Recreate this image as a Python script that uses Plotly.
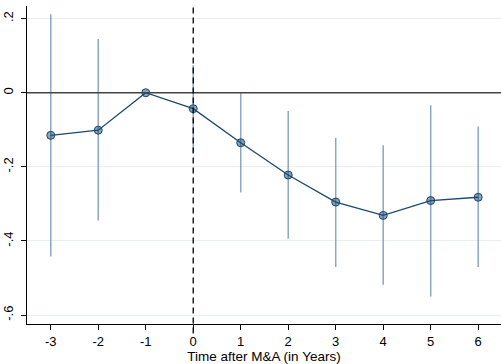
import plotly.graph_objects as go

years = [-3, -2, -1, 0, 1, 2, 3, 4, 5, 6]
coef = [-0.115, -0.101, 0.0, -0.043, -0.135, -0.222, -0.295, -0.331, -0.291, -0.282]
ci_hi = [0.212, 0.145, None, 0.074, 0.0, -0.049, -0.122, -0.142, -0.034, -0.091]
ci_lo = [-0.442, -0.345, None, -0.161, -0.269, -0.394, -0.470, -0.518, -0.550, -0.470]
ytick_vals = [0.2, 0.0, -0.2, -0.4, -0.6]
ytick_text = [".2", "0", "-.2", "-.4", "-.6"]
xtick_vals = [-3, -2, -1, 0, 1, 2, 3, 4, 5, 6]
xtick_text = ["-3", "-2", "-1", "0", "1", "2", "3", "4", "5", "6"]

fig = go.Figure()
# CI segments
seg_x, seg_y = [], []
for x, lo, hi in zip(years, ci_lo, ci_hi):
    if lo is None:
        continue
    seg_x += [x, x, None]
    seg_y += [lo, hi, None]
fig.add_trace(go.Scatter(x=seg_x, y=seg_y, mode="lines",
                         line=dict(color="rgba(110,145,180,0.8)", width=1.5),
                         hoverinfo="skip", showlegend=False))
fig.add_trace(go.Scatter(x=years, y=coef, mode="lines+markers",
                         line=dict(color="#1a476f", width=1.3),
                         marker=dict(size=8, color="rgba(26,71,111,0.5)",
                                     line=dict(color="#1a476f", width=1)),
                         showlegend=False))

fig.add_shape(type="line", xref="paper", x0=0, x1=1, yref="y", y0=0, y1=0,
              line=dict(color="#444444", width=1.4), layer="above")
fig.add_shape(type="line", xref="x", x0=0, x1=0, yref="paper", y0=-0.03, y1=1,
              line=dict(color="black", width=1.3, dash="6px,4px"), layer="above")

fig.update_layout(
    width=501, height=364,
    margin=dict(l=27, r=0, t=6, b=40),
    paper_bgcolor="white", plot_bgcolor="white",
    font=dict(family="Liberation Sans, Arial, sans-serif", size=13, color="black"),
    showlegend=False,
)
fig.update_xaxes(range=[-3.5, 6.48], tickvals=xtick_vals, ticktext=xtick_text,
                 ticks="outside", ticklen=5,
                 tickcolor="black", showline=True, linecolor="black", linewidth=1,
                 showgrid=False, zeroline=False, automargin=False,
                 title=dict(text="Time after M&A (in Years)", standoff=0,
                            font=dict(size=13.5)))
fig.update_yaxes(range=[-0.624, 0.234], tickvals=ytick_vals, ticktext=ytick_text,
                 tickangle=-90, ticks="outside", ticklen=5, tickcolor="black",
                 ticklabelstandoff=3,
                 showline=True, linecolor="black", linewidth=1, automargin=False,
                 showgrid=True, gridcolor="#e6f0f1", gridwidth=1, zeroline=False)

fig.write_html("out.html", config={"displayModeBar": False},
               post_script="document.body.style.margin='0';document.body.style.overflow='hidden';")
